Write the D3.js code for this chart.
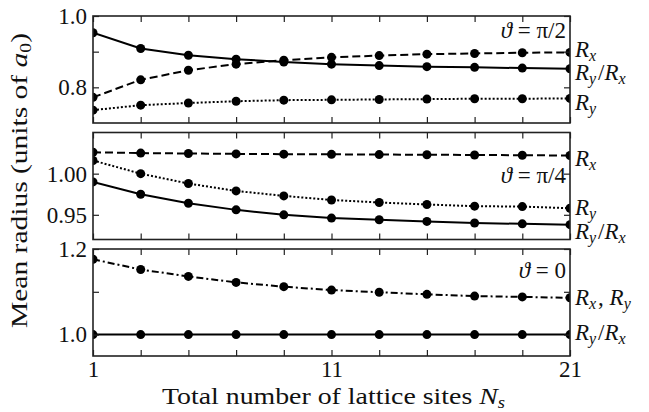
<!DOCTYPE html>
<html>
<head>
<meta charset="utf-8">
<script src="https://cdn.jsdelivr.net/npm/d3@7"></script>
<style>
  body { margin: 0; background: #fff; }
</style>
</head>
<body>
<div id="chart"></div>
<script>
// lattice sizes on the x axis
var sites = [1, 3, 5, 7, 9, 11, 13, 15, 17, 19, 21];
var xTickLabels = [1, 11, 21];

// theta = pi/2
var rxHalf    = [0.772, 0.821, 0.848, 0.865, 0.876, 0.884, 0.889, 0.893, 0.895, 0.897, 0.898];
var ryHalf    = [0.736, 0.750, 0.756, 0.761, 0.764, 0.765, 0.766, 0.767, 0.768, 0.768, 0.769];
var ratioHalf = [0.953, 0.909, 0.890, 0.879, 0.871, 0.865, 0.861, 0.858, 0.856, 0.854, 0.852];

// theta = pi/4
var rxQuarter    = [1.026, 1.025, 1.0245, 1.024, 1.0237, 1.0235, 1.0232, 1.023, 1.0227, 1.0224, 1.022];
var ryQuarter    = [1.016, 1.000, 0.988, 0.979, 0.973, 0.968, 0.965, 0.9625, 0.9605, 0.960, 0.958];
var ratioQuarter = [0.990, 0.975, 0.964, 0.956, 0.950, 0.946, 0.944, 0.942, 0.940, 0.939, 0.938];

// theta = 0
var rxyZero   = [1.176, 1.152, 1.136, 1.122, 1.112, 1.104, 1.099, 1.094, 1.090, 1.088, 1.086];
var ratioZero = [1.0, 1.0, 1.0, 1.0, 1.0, 1.0, 1.0, 1.0, 1.0, 1.0, 1.0];

var W = 649, H = 412;
var margin = {top: 16, right: 79, bottom: 56, left: 93};
var width = W - margin.left - margin.right;
var gap = 9.5;
var panelH = (H - margin.top - margin.bottom - 2 * gap) / 3;
var FONT = "Liberation Serif";
var FS = 23, SUB = 16;

var dashes = {solid: null, dashed: "8,4", dotted: "2,2", dashdot: "7,3,2,3"};

var panels = [
  {title: "π/2", domain: [0.7, 1.0], ticks: [0.8, 0.9, 1.0], labelTicks: [0.8, 1.0], fmt: ".1f",
   titleY: 22,
   series: [
     {values: rxHalf, style: "dashed"},
     {values: ratioHalf, style: "solid"},
     {values: ryHalf, style: "dotted"}
   ],
   labels: [
     {y: 0.885, parts: [["R", "x"]]},
     {y: 0.82, parts: [["R", "y"], "/", ["R", "x"]]},
     {y: 0.737, parts: [["R", "y"]]}
   ]},
  {title: "π/4", domain: [0.92, 1.05], ticks: [0.95, 1.0], labelTicks: [0.95, 1.0], fmt: ".2f",
   titleY: 50.5,
   series: [
     {values: rxQuarter, style: "dashed"},
     {values: ryQuarter, style: "dotted"},
     {values: ratioQuarter, style: "solid"}
   ],
   labels: [
     {y: 1.0092, parts: [["R", "x"]]},
     {y: 0.9495, parts: [["R", "y"]]},
     {y: 0.9203, parts: [["R", "y"], "/", ["R", "x"]]}
   ]},
  {title: "0", domain: [0.95, 1.2], ticks: [1.0, 1.1, 1.2], labelTicks: [1.0, 1.2], fmt: ".1f",
   titleY: 29,
   series: [
     {values: rxyZero, style: "dashdot"},
     {values: ratioZero, style: "solid"}
   ],
   labels: [
     {y: 1.069, parts: [["R", "x"], ", ", ["R", "y"]]},
     {y: 0.988, parts: [["R", "y"], "/", ["R", "x"]]}
   ]}
];

var svg = d3.select("#chart").append("svg")
  .attr("width", W).attr("height", H)
  .attr("font-family", FONT);

var x = d3.scaleLinear().domain([1, 21]).range([0, width]);

function serif(sel, size) {
  return sel.attr("font-family", FONT).attr("font-size", size).attr("fill", "#111");
}

function mathLabel(sel, parts) {
  parts.forEach(function (p) {
    if (typeof p === "string") {
      sel.append("tspan").text(p);
    } else {
      sel.append("tspan").attr("font-style", "italic").text(p[0]);
      sel.append("tspan").attr("font-style", "italic").attr("font-size", SUB)
        .attr("dy", 4).text(p[1]);
      sel.append("tspan").attr("dy", -4).text("\u200A");
    }
  });
}

panels.forEach(function (p, i) {
  var top = margin.top + i * (panelH + gap);
  var g = svg.append("g").attr("transform", "translate(" + margin.left + "," + top + ")");
  var y = d3.scaleLinear().domain(p.domain).range([panelH, 0]);

  g.append("clipPath").attr("id", "clip" + i)
    .append("rect").attr("width", width).attr("height", panelH);

  var plot = g.append("g").attr("clip-path", "url(#clip" + i + ")");

  p.series.forEach(function (s) {
    var pts = sites.map(function (n, k) { return [n, s.values[k]]; });
    plot.append("path")
      .datum(pts)
      .attr("fill", "none")
      .attr("stroke", "#000")
      .attr("stroke-width", 2)
      .attr("stroke-dasharray", dashes[s.style])
      .attr("d", d3.line().x(function (d) { return x(d[0]); }).y(function (d) { return y(d[1]); }));
    plot.selectAll(null)
      .data(pts)
      .enter().append("circle")
      .attr("cx", function (d) { return x(d[0]); })
      .attr("cy", function (d) { return y(d[1]); })
      .attr("r", 4.5)
      .attr("fill", "#000");
  });

  // axes: inward ticks on every side
  var fmt = d3.format(p.fmt);
  var left = g.append("g").call(d3.axisLeft(y).tickValues(p.ticks).tickSize(-6)
    .tickFormat(function (d) { return p.labelTicks.indexOf(d) >= 0 ? fmt(d) : ""; }).tickPadding(6));
  var right = g.append("g").attr("transform", "translate(" + width + ",0)")
    .call(d3.axisRight(y).tickValues(p.ticks).tickSize(-6).tickFormat(""));
  var topAx = g.append("g").call(d3.axisTop(x).tickValues(sites).tickSize(-6).tickFormat(""));
  var bottom = g.append("g").attr("transform", "translate(0," + panelH + ")")
    .call(d3.axisBottom(x).tickValues(sites).tickSize(-6)
      .tickFormat(function (d) { return (i === 2 && xTickLabels.indexOf(d) >= 0) ? d : ""; })
      .tickPadding(5));

  [left, right, topAx, bottom].forEach(function (a) {
    a.attr("font-family", FONT);
    a.select(".domain").remove();
    a.selectAll("line").attr("stroke", "#222").attr("stroke-width", 1.2);
    serif(a.selectAll("text"), FS);
  });
  bottom.selectAll("text").attr("dy", "0.71em");

  g.append("rect")
    .attr("width", width).attr("height", panelH)
    .attr("fill", "none").attr("stroke", "#222").attr("stroke-width", 1.6);

  // panel title
  var t = serif(g.append("text"), FS).attr("x", width - 4).attr("y", p.titleY)
    .attr("text-anchor", "end");
  t.append("tspan").attr("font-style", "italic").text("ϑ");
  t.append("tspan").text(" = " + p.title);

  // curve labels on the right
  p.labels.forEach(function (l) {
    var txt = serif(g.append("text"), FS).attr("x", width + 5).attr("y", y(l.y));
    mathLabel(txt, l.parts);
  });
});

// axis titles
var xl = serif(svg.append("text"), 24)
  .attr("x", 162).attr("y", 404)
  .attr("textLength", 343).attr("lengthAdjust", "spacingAndGlyphs");
xl.append("tspan").text("Total number of lattice sites ");
xl.append("tspan").attr("font-style", "italic").text("N");
xl.append("tspan").attr("font-style", "italic").attr("font-size", SUB).attr("dy", 4).text("s");

var yl = serif(svg.append("text"), 24)
  .attr("transform", "translate(27,328) rotate(-90)")
  .attr("textLength", 295).attr("lengthAdjust", "spacingAndGlyphs");
yl.append("tspan").text("Mean radius (units of ");
yl.append("tspan").attr("font-style", "italic").text("a");
yl.append("tspan").attr("font-size", SUB).attr("dy", 4).text("0");
yl.append("tspan").attr("dy", -4).text(")");
</script>
</body>
</html>
